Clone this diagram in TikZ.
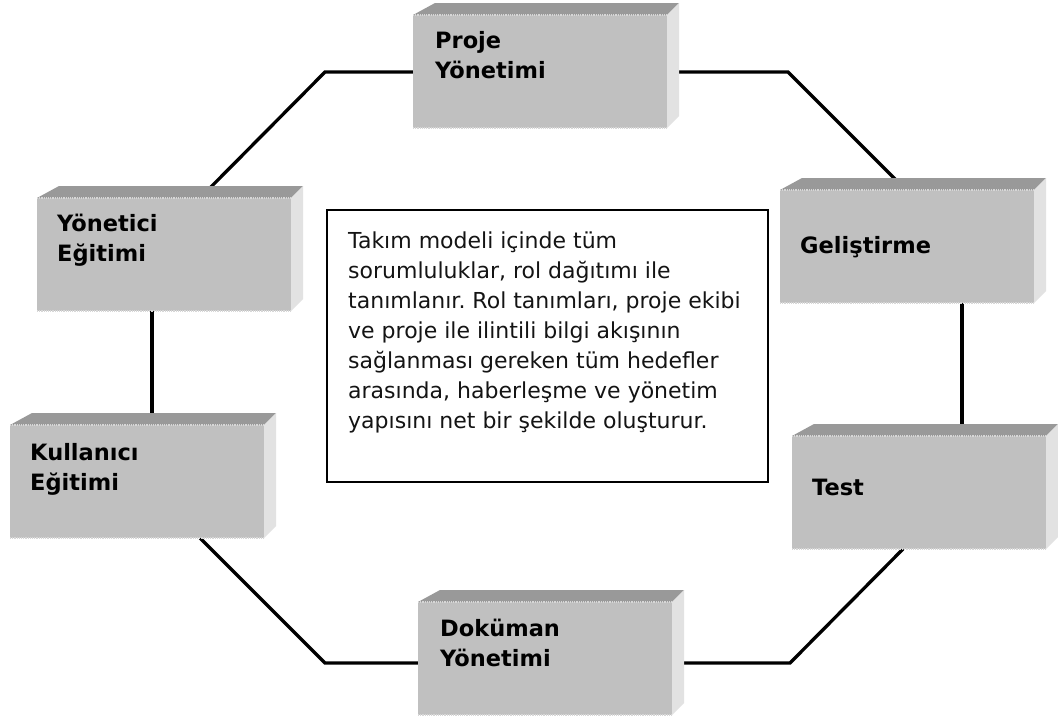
\documentclass[tikz,border=0pt]{standalone}
\usepackage{fontspec}
\setmainfont{DejaVu Sans}
\usetikzlibrary{calc,backgrounds}
\definecolor{facegray}{RGB}{192,192,192}
\definecolor{topgray}{RGB}{153,153,153}
\definecolor{sidegray}{RGB}{226,226,226}
\definecolor{edgegray}{RGB}{215,215,215}
\definecolor{bodyink}{RGB}{20,20,20}
\frenchspacing
\newcommand\cubefaces[1]{%
  \fill[topgray] (#1.north west) -- ([shift={(22,-12)}]#1.north west) -- ([shift={(12,-12)}]#1.north east) -- (#1.north east) -- cycle;
  \fill[sidegray] (#1.north east) -- ([shift={(12,-12)}]#1.north east) -- ([shift={(12,-12)}]#1.south east) -- (#1.south east) -- cycle;
  \draw[dotline] (#1.north west) -- (#1.north east);
  \draw[dotline] (#1.south west) -- (#1.south east);
}
\tikzset{
  front/.style={fill=facegray, minimum width=254pt, minimum height=113pt, anchor=north west, inner sep=0pt, outer sep=0pt},
  lbl/.style={font=\bfseries\fontsize{22.5}{30}\selectfont, align=left, anchor=north west, inner sep=0pt, text=black},
  body/.style={font=\fontsize{22}{30}\selectfont, align=left, anchor=north west, inner sep=0pt, text=bodyink},
  conn/.style={line width=3.3pt, line join=miter, draw=black},
  dotline/.style={densely dotted, draw=edgegray, line width=1.2pt},
  descbox/.style={draw=black, line width=1.5pt, minimum width=441pt, minimum height=272pt, anchor=north west, inner sep=0pt, outer sep=0pt}
}
\begin{document}
\begin{tikzpicture}[x=1pt,y=-1pt]
\useasboundingbox (0,0) rectangle (1058,720);
% boxes
\node[front] (proje) at (413,15) {};
\node[front] (yon) at (37,198) {};
\node[front] (kul) at (10,425) {};
\node[front] (geli) at (780,190) {};
\node[front] (test) at (792,436) {};
\node[front] (doc) at (418,602) {};
\cubefaces{proje}
\cubefaces{yon}
\cubefaces{kul}
\cubefaces{geli}
\cubefaces{test}
\cubefaces{doc}
% labels
\node[lbl] (tproje) at ([shift={(22,12)}]proje.north west) {\strut Proje\\Yönetimi};
\node[lbl] (tyon) at ([shift={(20,12)}]yon.north west) {\strut Yönetici\\Eğitimi};
\node[lbl] (tkul) at ([shift={(20,14)}]kul.north west) {\strut Kullanıcı\\Eğitimi};
\node[lbl] (tgeli) at ([shift={(20,42)}]geli.north west) {\strut Geliştirme};
\node[lbl] (ttest) at ([shift={(20,38)}]test.north west) {\strut Test};
\node[lbl] (tdoc) at ([shift={(22,13)}]doc.north west) {\strut Doküman\\Yönetimi};
% description box
\node[descbox] (desc) at (327,210) {};
\node[body] (tdesc) at ([shift={(21,17)}]desc.north west) {\strut Takım modeli içinde tüm\\sorumluluklar, rol dağıtımı ile\\tanımlanır. Rol tanımları, proje ekibi\\ve proje ile ilintili bilgi akışının\\sağlanması gereken tüm hedefler\\arasında, haberleşme ve yönetim\\yapısını net bir şekilde oluşturur.};
% connectors
\coordinate (b1) at (325,72);
\coordinate (b2) at (788,72);
\coordinate (b3) at (790,663);
\coordinate (b4) at (325,663);
\begin{pgfonlayer}{background}
\fill[white] (0,0) rectangle (1058,720);
\draw[conn] (b1 -| proje.west) -- (b1) -- ($(yon.north west)+(163,0)$);
\draw[conn] (b2 -| proje.east) -- (b2) -- ($(geli.north west)+(126,0)$);
\draw[conn] ($(geli.south west)+(182,0)$) -- ($(test.north west)+(170,0)$);
\draw[conn] ($(test.south west)+(111,0)$) -- (b3) -- (b3 -| doc.east);
\draw[conn] (b4 -| doc.west) -- (b4) -- ($(kul.south west)+(190,0)$);
\draw[conn] ($(yon.south west)+(115,0)$) -- ($(kul.north west)+(142,0)$);
\end{pgfonlayer}
\end{tikzpicture}
\end{document}
